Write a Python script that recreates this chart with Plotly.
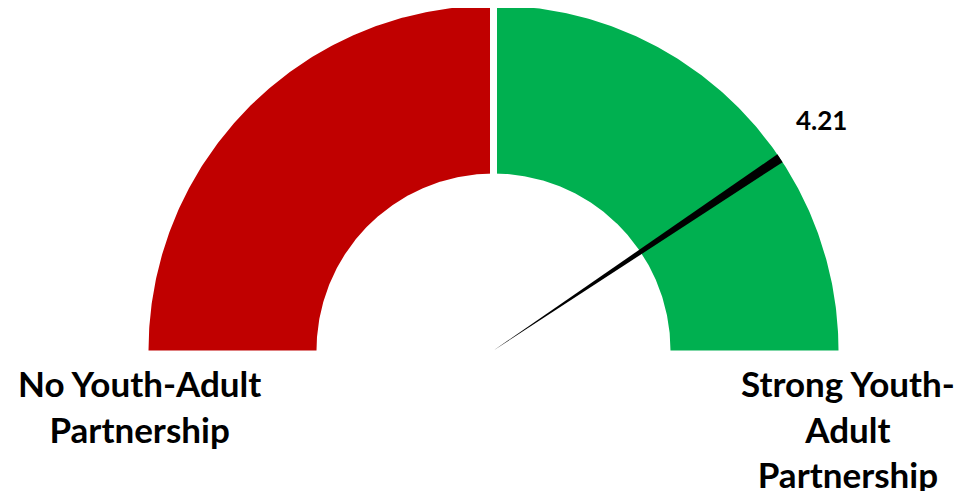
import numpy as np
import plotly.graph_objects as go

# ---- data ----
scale_min = 1.0
scale_max = 5.0
segment_bounds = [1.0, 3.0, 5.0]
segment_colors = ["#C00000", "#00B050"]
score = 4.21
needle_span = 0.075          # needle slice width in scale units (Excel-style gauge)
score_label = "4.21"
left_label = "No Youth-Adult<br>Partnership"
right_label = "Strong Youth-<br>Adult<br>Partnership"

# ---- geometry (data units: outer radius = 1) ----
W, H = 970, 491
OFF = 8  # page body margin offset of the plot div
cx_px, cy_px, R_px = 493.5 - OFF, 350.5 - OFF, 345.0
r_in = 177.0 / R_px


def ang(v):
    # value -> angle (radians), min on the left, max on the right
    return np.pi * (1 - (v - scale_min) / (scale_max - scale_min))


fig = go.Figure()

for i, col in enumerate(segment_colors):
    a0, a1 = ang(segment_bounds[i]), ang(segment_bounds[i + 1])
    t = np.linspace(a0, a1, 200)
    xs = np.concatenate([np.cos(t), r_in * np.cos(t[::-1])])
    ys = np.concatenate([np.sin(t), r_in * np.sin(t[::-1])])
    fig.add_trace(go.Scatter(x=np.append(xs, xs[0]), y=np.append(ys, ys[0]),
                             fill="toself", fillcolor=col, mode="lines",
                             line=dict(width=0, color=col), hoverinfo="skip",
                             showlegend=False))

# white separators between segments
for b in segment_bounds[1:-1]:
    a = ang(b)
    fig.add_trace(go.Scatter(x=[r_in * np.cos(a) * 0.98, 1.02 * np.cos(a)],
                             y=[r_in * np.sin(a) * 0.98, 1.02 * np.sin(a)],
                             mode="lines", line=dict(color="white", width=7),
                             hoverinfo="skip", showlegend=False))

# needle: thin wedge from center to the outer radius
a_n = (ang(score) + ang(score + needle_span)) / 2
half = 4.7 / R_px
nx = [0, np.cos(a_n) - half * np.sin(a_n), np.cos(a_n) + half * np.sin(a_n), 0]
ny = [0, np.sin(a_n) + half * np.cos(a_n), np.sin(a_n) - half * np.cos(a_n), 0]
fig.add_trace(go.Scatter(x=nx, y=ny, fill="toself", fillcolor="black", mode="lines",
                         line=dict(width=0, color="black"), hoverinfo="skip",
                         showlegend=False))

font_family = "Lato, 'Open Sans', sans-serif"


def px(x, y):
    return (x - OFF) / W, 1 - (y - OFF) / H


x0, y0 = px(821, 120)
fig.add_annotation(x=x0, y=y0, xref="paper", yref="paper",
                   text="<b>%s</b>" % score_label, showarrow=False,
                   font=dict(size=26, color="black", family=font_family),
                   xanchor="center", yanchor="middle")
x0, y0 = px(139, 406)
fig.add_annotation(x=x0, y=y0, xref="paper", yref="paper",
                   text="<b>%s</b>" % left_label, showarrow=False,
                   font=dict(size=35, color="black", family=font_family),
                   xanchor="center", yanchor="middle", align="center")
x0, y0 = px(848, 428)
fig.add_annotation(x=x0, y=y0, xref="paper", yref="paper",
                   text="<b>%s</b>" % right_label, showarrow=False,
                   font=dict(size=35, color="black", family=font_family),
                   xanchor="center", yanchor="middle", align="center")

fig.update_xaxes(range=[-cx_px / R_px, (W - cx_px) / R_px], visible=False, fixedrange=True)
fig.update_yaxes(range=[-(H - cy_px) / R_px, cy_px / R_px], visible=False, fixedrange=True)
fig.update_layout(width=W, height=H, margin=dict(l=0, r=0, t=0, b=0),
                  paper_bgcolor="white", plot_bgcolor="white", showlegend=False)

fig.write_html("out.html")
